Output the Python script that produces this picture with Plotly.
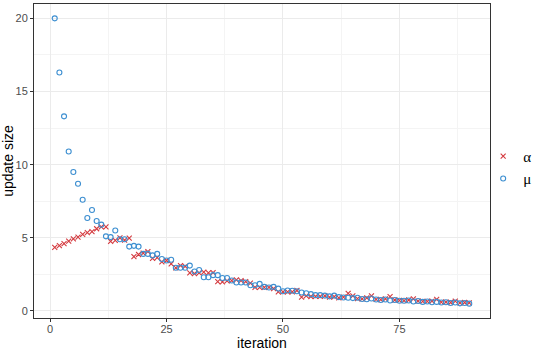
import plotly.graph_objects as go

# values
iteration = list(range(1, 91))

mu = [
    20.0, 16.3, 13.3, 10.9, 9.5, 8.7, 7.6, 6.35, 6.9, 6.15,
    5.9, 5.1, 5.05, 5.5, 4.9, 4.9, 4.4, 4.45, 4.4, 3.9,
    3.9, 3.8, 3.9, 3.55, 3.45, 3.5, 2.95, 2.95, 2.95, 3.1,
    2.7, 2.8, 2.3, 2.3, 2.45, 2.45, 2.25, 2.25, 2.08, 1.95,
    1.95, 1.95, 1.76, 1.76, 1.85, 1.65, 1.6, 1.65, 1.53, 1.35,
    1.4, 1.38, 1.35, 1.26, 1.21, 1.15, 1.08, 1.08, 1.05, 1.0,
    1.05, 0.95, 0.92, 0.9, 0.88, 0.9, 0.82, 0.8, 0.85, 0.78,
    0.75, 0.78, 0.72, 0.75, 0.7, 0.7, 0.72, 0.65, 0.68, 0.62,
    0.65, 0.6, 0.62, 0.58, 0.6, 0.55, 0.58, 0.52, 0.55, 0.5,
]

alpha = [
    4.34, 4.47, 4.6, 4.77, 4.93, 5.05, 5.23, 5.36, 5.43, 5.62,
    5.75, 5.75, 4.75, 4.82, 5.0, 4.84, 4.98, 3.72, 3.86, 3.95,
    4.06, 3.6, 3.65, 3.36, 3.45, 3.22, 2.95, 3.1, 3.05, 2.6,
    2.55, 2.6, 2.65, 2.6, 2.62, 2.0, 1.99, 2.06, 2.08, 2.12,
    2.08, 2.0, 1.9, 1.62, 1.62, 1.62, 1.62, 1.53, 1.3, 1.3,
    1.3, 1.3, 1.4, 0.95, 1.03, 0.99, 1.0, 1.0, 1.03, 0.95,
    0.98, 0.9, 0.95, 1.21, 1.03, 0.85, 0.82, 0.9, 1.03, 0.8,
    0.78, 0.82, 0.98, 0.75, 0.72, 0.7, 0.75, 0.82, 0.68, 0.65,
    0.65, 0.68, 0.8, 0.6, 0.6, 0.58, 0.68, 0.55, 0.58, 0.55,
]

x_ticks = [0, 25, 50, 75]
y_ticks = [0, 5, 10, 15, 20]

red = '#D43A3F'
blue = '#3D8FD1'

fig = go.Figure()
fig.add_trace(go.Scatter(
    x=iteration, y=alpha, mode='markers', name='α',
    marker=dict(symbol='x-thin-open', size=5, color=red, line=dict(color=red, width=1.1))
))
fig.add_trace(go.Scatter(
    x=iteration, y=mu, mode='markers', name='μ',
    marker=dict(symbol='circle-open', size=5, color=blue, line=dict(color=blue, width=1.1))
))

axis_common = dict(
    automargin=False,
    showgrid=True, gridcolor='#EBEBEB', gridwidth=1,
    minor=dict(showgrid=True, gridcolor='#F4F4F4', gridwidth=0.6),
    zeroline=False, showline=True, mirror=True, linecolor='#333333', linewidth=1,
    ticks='outside', ticklen=3, tickcolor='#333333',
    tickfont=dict(family='Liberation Sans', size=11, color='#4D4D4D'),
)

fig.update_layout(
    width=540, height=351,
    margin=dict(l=34, r=50, t=4, b=33, autoexpand=False),
    plot_bgcolor='white', paper_bgcolor='white',
    font=dict(family='Liberation Sans', color='black'),
    xaxis=dict(axis_common, range=[-3.45, 94.45], tickvals=x_ticks,
               minor_tickvals=[12.5, 37.5, 62.5, 87.5], minor_ticks='',
               ticklabelstandoff=-2,
               title=dict(text='iteration', font=dict(size=14), standoff=2)),
    yaxis=dict(axis_common, range=[-0.48, 20.98], tickvals=y_ticks,
               minor_tickvals=[2.5, 7.5, 12.5, 17.5], minor_ticks='',
               title=dict(text='update size', font=dict(size=14), standoff=4)),
    legend=dict(x=0.985, xanchor='left', y=0.48, yanchor='middle',
                font=dict(size=15, family='Liberation Serif'),
                itemwidth=30, tracegroupgap=0, bgcolor='rgba(0,0,0,0)'),
)

# drop the browser's default 8px body margin so the figure sits at the page corner
fig.write_html("out.html", config={'displayModeBar': False},
               post_script="document.body.style.margin='0';")
